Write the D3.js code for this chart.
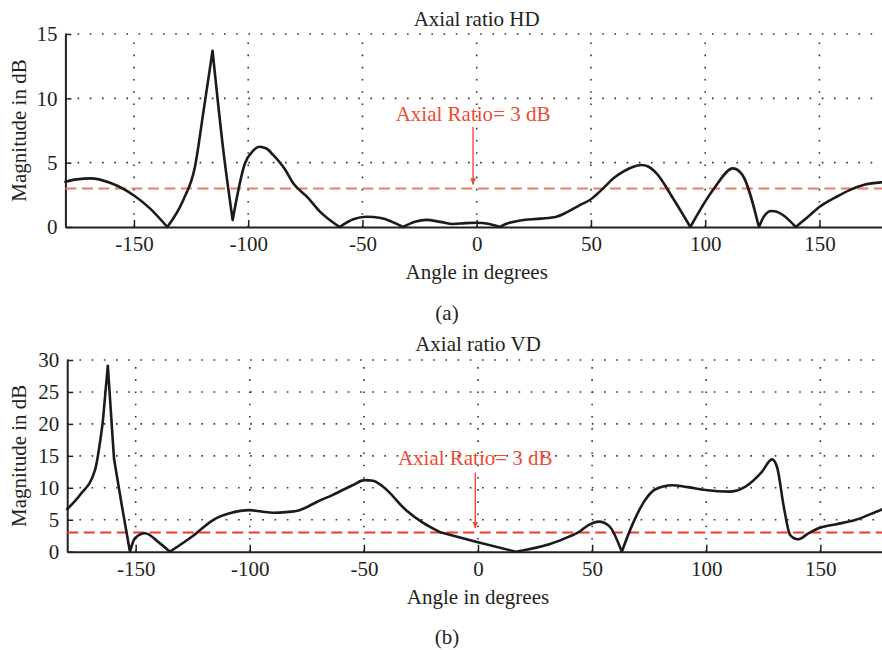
<!DOCTYPE html>
<html>
<head>
<meta charset="utf-8">
<script src="https://cdn.jsdelivr.net/npm/d3@7"></script>
<style>
  body { margin: 0; background: #fff; }
  svg { display: block; }
  text { font-family: "Liberation Serif", "DejaVu Serif", serif; fill: #231f20; }
</style>
</head>
<body>
<div id="chart"></div>
<script>
// angle ticks shared by both panels
var angleTicks = [-150, -100, -50, 0, 50, 100, 150];

// axial ratio HD (top panel)
var hdAngle = [-180, -175, -169, -160.5, -150.3, -143, -135.4, -128.4, -123.3, -119.7, -115.6, -110.9, -106.8,
  -101.4, -98, -95.2, -92, -89.1, -84, -80.3, -74, -68.6, -60, -54, -48.2, -42, -32.2, -27, -22, -16, -10.4,
  -5, 0, 5, 10.1, 13, 18.9, 28, 34.9, 40, 45.1, 49.5, 55.3, 60, 64.1, 68, 72.1, 75, 78.7, 85.9, 93.5, 103.4,
  112.2, 116.3, 123.5, 126, 128.9, 131, 134, 139.6, 145, 150.1, 157, 163.2, 170, 177.1, 180];
var hdValue = [3.52, 3.7, 3.78, 3.44, 2.49, 1.45, 0, 2.1, 4.69, 8.83, 13.7, 5.98, 0.54,
  4.95, 5.9, 6.24, 6.1, 5.6, 4.5, 3.4, 2.3, 1.19, 0, 0.6, 0.8, 0.7, 0, 0.4, 0.55, 0.4, 0.23,
  0.3, 0.33, 0.25, 0, 0.25, 0.5, 0.65, 0.8, 1.2, 1.7, 2.1, 3.0, 3.8, 4.3, 4.65, 4.82, 4.7, 4.17, 2.23, 0, 2.87,
  4.56, 4.04, 0, 0.9, 1.24, 1.2, 0.93, 0, 0.8, 1.58, 2.3, 2.87, 3.3, 3.47, 3.5];
// sharp corners of the HD curve (nulls and the narrow peak)
var hdCusps = [-135.4, -115.6, -106.8, -60, -32.2, 10.1, 93.5, 123.5, 139.6];

// axial ratio VD (bottom panel)
var vdAngle = [-180, -174.4, -167.8, -164.4, -162.2, -159.5, -156.1, -152.5, -150.3, -145.9, -140, -135,
  -124.8, -116.1, -108.8, -100, -95, -89.8, -84, -78.2, -70, -63.6, -55, -49.7, -46, -41.7, -31.5, -24, -16.9,
  -0.9, 16.6, 31.2, 39.9, 44.3, 48.6, 53, 57.5, 63, 67.6, 72.7, 77.8, 85.1, 92, 99.7, 109.9, 117.2, 124.4,
  128.8, 131, 134, 136.8, 140.2, 144.8, 149.2, 157, 165.2, 176.2, 180];
var vdValue = [6.68, 8.87, 12.8, 20.3, 29.1, 14.6, 7.3, 0, 2.1, 2.88, 1.5, 0,
  2.5, 4.96, 6.0, 6.5, 6.3, 6.1, 6.2, 6.5, 7.9, 8.9, 10.4, 11.2, 11.1, 10.2, 6.5, 4.5, 3.1,
  1.57, 0, 1.15, 2.35, 3.1, 4.2, 4.7, 4.0, 0, 4.2, 7.8, 9.77, 10.4, 10.1, 9.65, 9.4, 10.2, 12.5,
  14.45, 13.3, 7.0, 2.6, 1.94, 2.88, 3.66, 4.3, 4.96, 6.5, 7.0];
// sharp corners of the VD curve
var vdCusps = [-164.4, -162.2, -159.5, -152.5, -135, -16.9, 16.6, 63];

var hdTicks = [0, 5, 10, 15];
var vdTicks = [0, 5, 10, 15, 20, 25, 30];
var arLevel = 3;

var fontSize = "21px";

var svg = d3.select("#chart")
  .append("svg")
    .attr("width", 882)
    .attr("height", 650)
    .style("overflow", "hidden");

// arrow head for the annotation
svg.append("defs").append("marker")
    .attr("id", "arrowhead")
    .attr("viewBox", "0 0 10 10")
    .attr("refX", 9)
    .attr("refY", 5)
    .attr("markerWidth", 7)
    .attr("markerHeight", 7)
    .attr("markerUnits", "userSpaceOnUse")
    .attr("orient", "auto")
  .append("path")
    .attr("d", "M0,1 L10,5 L0,9 z")
    .attr("fill", "#ef4a32");

function drawPanel(p) {
  var x = d3.scaleLinear().domain([-180, 180]).range(p.xRange);
  var y = d3.scaleLinear().domain([0, p.yMax]).range(p.yRange);
  var g = svg.append("g");

  // dotted grid
  g.selectAll(".vgrid")
    .data(angleTicks)
    .enter()
    .append("line")
      .attr("x1", function(d) { return x(d); })
      .attr("x2", function(d) { return x(d); })
      .attr("y1", y(0))
      .attr("y2", y(p.yMax))
      .attr("stroke", "#333")
      .attr("stroke-width", 1.6)
      .style("stroke-dasharray", "1.6,10.6");
  g.selectAll(".hgrid")
    .data(p.yTicks.filter(function(d) { return d > 0; }))
    .enter()
    .append("line")
      .attr("x1", x(-180))
      .attr("x2", 882)
      .attr("y1", function(d) { return y(d); })
      .attr("y2", function(d) { return y(d); })
      .attr("stroke", "#333")
      .attr("stroke-width", 1.6)
      .style("stroke-dasharray", "1.6,10.6");

  // axes (plain hyphen for negatives, like the original)
  var fmt = function(d) { return String(d); };
  var xAxis = g.append("g")
    .attr("transform", "translate(0," + y(0) + ")")
    .call(d3.axisBottom(x).tickValues(angleTicks).tickFormat(fmt)
      .tickSizeInner(-7).tickSizeOuter(0).tickPadding(9));
  var yAxis = g.append("g")
    .attr("transform", "translate(" + x(-180) + ",0)")
    .call(d3.axisLeft(y).tickValues(p.yTicks).tickFormat(fmt)
      .tickSizeInner(-6).tickSizeOuter(0).tickPadding(8));
  [xAxis, yAxis].forEach(function(a) {
    a.select(".domain").attr("stroke", "#231f20").attr("stroke-width", 2);
    a.selectAll(".tick line").attr("stroke", "#231f20").attr("stroke-width", 1.5);
    a.selectAll(".tick text").style("font-size", fontSize).attr("fill", "#231f20")
      .style("font-family", "'Liberation Serif', serif");
  });

  // 3 dB reference line
  g.append("line")
    .attr("x1", x(-180))
    .attr("x2", 882)
    .attr("y1", y(arLevel))
    .attr("y2", y(arLevel))
    .attr("stroke", p.refColor)
    .attr("stroke-width", 2)
    .style("stroke-dasharray", "11,5.5");

  // the curve: smooth pieces, broken at the sharp corners
  var pts = p.angle.map(function(a, i) { return [a, p.value[i]]; });
  var pieces = [], cur = [];
  pts.forEach(function(d) {
    cur.push(d);
    if (p.cusps.indexOf(d[0]) >= 0) { pieces.push(cur); cur = [d]; }
  });
  if (cur.length > 1) pieces.push(cur);
  var line = d3.line()
    .x(function(d) { return x(d[0]); })
    .y(function(d) { return y(d[1]); })
    .curve(d3.curveMonotoneX);
  g.append("path")
    .attr("fill", "none")
    .attr("stroke", "#1c1a1b")
    .attr("stroke-width", 2.6)
    .attr("stroke-linejoin", "round")
    .attr("stroke-linecap", "round")
    .attr("d", pieces.map(function(s) { return line(s); }).join(""));

  // annotation
  g.append("line")
    .attr("x1", x(p.arrowAt))
    .attr("x2", x(p.arrowAt))
    .attr("y1", y(p.arrowFrom))
    .attr("y2", y(p.arrowTo))
    .attr("stroke", "#ef4a32")
    .attr("stroke-width", 1.4)
    .attr("marker-end", "url(#arrowhead)");
  g.append("text")
    .attr("x", x(p.arrowAt))
    .attr("y", y(p.textAt))
    .attr("text-anchor", "middle")
    .style("font-size", fontSize)
    .style("fill", "#ef4a32")
    .text("Axial Ratio= 3 dB");

  // titles and labels
  g.append("text")
    .attr("x", x(0))
    .attr("y", p.titleY)
    .attr("text-anchor", "middle")
    .style("font-size", fontSize)
    .text(p.title);
  g.append("text")
    .attr("x", x(0))
    .attr("y", y(0) + 52)
    .attr("text-anchor", "middle")
    .style("font-size", fontSize)
    .text("Angle in degrees");
  g.append("text")
    .attr("transform", "translate(26," + (p.yRange[0] + p.yRange[1]) / 2 + ") rotate(-90)")
    .attr("text-anchor", "middle")
    .style("font-size", fontSize)
    .text("Magnitude in dB");
  g.append("text")
    .attr("x", 447)
    .attr("y", p.captionY)
    .attr("text-anchor", "middle")
    .style("font-size", fontSize)
    .text(p.caption);
}

drawPanel({
  angle: hdAngle, value: hdValue, cusps: hdCusps, yMax: 15, yTicks: hdTicks,
  xRange: [65.4, 888], yRange: [227, 34],
  refColor: "#f47a62", title: "Axial ratio HD", titleY: 26,
  arrowAt: -1.6, arrowFrom: 7.8, arrowTo: 3.3, textAt: 8.25,
  caption: "(a)", captionY: 320
});
drawPanel({
  angle: vdAngle, value: vdValue, cusps: vdCusps, yMax: 30, yTicks: vdTicks,
  xRange: [67.2, 888.8], yRange: [551.7, 360],
  refColor: "#f03a26", title: "Axial ratio VD", titleY: 351,
  arrowAt: -1.2, arrowFrom: 12.4, arrowTo: 3.7, textAt: 13.6,
  caption: "(b)", captionY: 644
});
</script>
</body>
</html>
